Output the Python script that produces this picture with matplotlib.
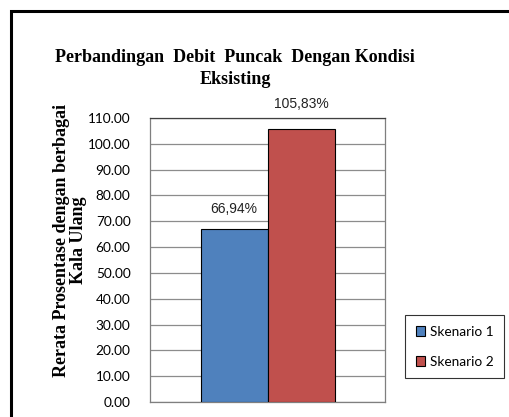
import matplotlib
matplotlib.use("Agg")
import matplotlib.pyplot as plt
from matplotlib.patches import Rectangle, Patch

categories = ["Skenario 1", "Skenario 2"]
values = [66.94, 105.83]
value_labels = ["66,94%", "105,83%"]
colors = ["#4F81BD", "#C0504D"]
yticks = [0, 10, 20, 30, 40, 50, 60, 70, 80, 90, 100, 110]

W, H = 509, 417
fig = plt.figure(figsize=(W / 100, H / 100), dpi=100)

# outer chart frame (continues beyond the image edges)
fig.patches.append(Rectangle((11 / W, -0.2), 1.2, 1.2 - 11 / H,
                             transform=fig.transFigure, fill=False,
                             edgecolor="black", linewidth=2.2))

ax = fig.add_axes([150 / W, 1 - 402 / H, 235 / W, 284 / H])
offsets = [-0.283, 0.287]
width = 0.57
label_pad = [5, 7]
for off, v, c, lab, p in zip(offsets, values, colors, value_labels, label_pad):
    ax.bar(off, v, width=width, color=c, edgecolor="black", linewidth=0.8, zorder=3)
    ax.text(off, v + p, lab, ha="center", va="bottom", fontsize=10,
            family="Liberation Sans", color="#222222")
ax.set_xlim(-1, 1)
ax.set_ylim(0, 110)
ax.set_yticks(yticks)
ax.set_yticklabels([f"{t:.2f}" for t in yticks], family="Lato", fontsize=9.8)
ax.set_xticks([])
ax.tick_params(axis="y", length=0, pad=14)
ax.yaxis.grid(True, color="#8C8C8C", linewidth=0.9, zorder=0)
for s in ax.spines.values():
    s.set_color("#7F7F7F")
    s.set_linewidth(0.9)
ax.spines["top"].set_color("#404040")

fig.text(235 / W, 1 - 58 / H, "Perbandingan  Debit  Puncak  Dengan Kondisi",
         ha="center", va="center", fontsize=13, fontweight="bold",
         family="Liberation Serif")
fig.text(235 / W, 1 - 80 / H, "Eksisting", ha="center", va="center",
         fontsize=13, fontweight="bold", family="Liberation Serif")
fig.text(70 / W, 1 - 240 / H, "Rerata Prosentase dengan berbagai\nKala Ulang",
         ha="center", va="center", rotation=90, fontsize=13,
         fontweight="bold", family="Liberation Serif", linespacing=0.95)

handles = [Patch(facecolor=c, edgecolor="black", linewidth=0.8) for c in colors]
leg = fig.legend(handles, categories, loc="upper left",
                 bbox_to_anchor=(405 / W, 1 - 315 / H), frameon=True,
                 fancybox=False, edgecolor="black",
                 prop={"family": "Lato", "size": 9.8},
                 handlelength=0.7, handleheight=0.7, handletextpad=0.3,
                 labelspacing=1.3, borderpad=0.8, borderaxespad=0)
leg.get_frame().set_linewidth(0.8)

fig.savefig("out.png", dpi=100)
